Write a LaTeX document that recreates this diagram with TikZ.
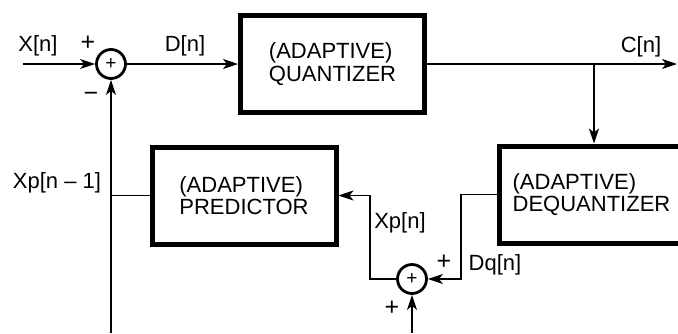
\documentclass[tikz,border=0pt]{standalone}
\usepackage{fontspec}
\setmainfont{Liberation Sans}
\usetikzlibrary{arrows.meta}
\begin{document}
\begin{tikzpicture}[x=1pt,y=-1pt,
  block/.style={draw,line width=5pt,minimum width=184pt,minimum height=97pt,
    inner sep=0pt,align=left,font=\fontsize{22}{22.5}\selectfont},
  sumnode/.style={draw,circle,line width=2.8pt,minimum size=29pt,inner sep=0pt,
    font=\fontsize{19}{19}\selectfont},
  lbl/.style={font=\fontsize{22}{22}\selectfont,inner sep=0pt},
  sgn/.style={font=\fontsize{25}{25}\selectfont,inner sep=0pt},
  wire/.style={line width=1.4pt},
  conn/.style={wire,-{Stealth[length=15pt,width=10pt,inset=4pt]}}]
\useasboundingbox (0,0) rectangle (678,333);
\clip (0,0) rectangle (678,333);

% summing junctions and blocks
\node[sumnode] (s1) at (111,64) {+};
\node[block] (q)  at (332.5,64)    {(ADAPTIVE)\\QUANTIZER};
\node[block] (dq) at (591.5,194.5) {(ADAPTIVE)\\DEQUANTIZER};
\node[block] (p)  at (244,195.5)   {(ADAPTIVE)\\PREDICTOR};
\node[sumnode] (s2) at (412,279) {+};

% free ends and corners of the wires
\coordinate (in)  at (23,64);
\coordinate (out) at (677,64);
\coordinate (br)  at (594,64);
\coordinate (fb)  at (111,333);
\coordinate (b2)  at (412,333);
\coordinate (k1)  at (461,279);
\coordinate (k2)  at (370,279);

% forward path
\draw[conn] (in) -- (s1);
\draw[conn] (s1) -- (q);
\draw[conn] (q) -- (out);
\draw[conn] (br) -- (dq.north -| br);

% reconstruction and prediction loop
\draw[conn] (dq.west) -| (k1) -- (s2);
\draw[conn] (s2) -- (k2) |- (p.east);
\draw[conn] (b2) -- (s2);
\draw[conn] (fb) -- (s1);
\draw[wire] (p.west) -- (p.west -| fb);

% signal names
\node[lbl] (lx)  at (38,46)  {X[n]};
\node[lbl] (ld)  at (185,46) {D[n]};
\node[lbl] (lc)  at (641,47) {C[n]};
\node[lbl] (lxp1) at (57,183) {Xp[n – 1]};
\node[lbl] (lxp) at (400,223) {Xp[n]};
\node[lbl] (ldq) at (495,265) {Dq[n]};

% signs at the junction inputs
\node[sgn] (p1) at (88,43)  {+};
\node[sgn] (m1) at (91,97)  {−};
\node[sgn] (p2) at (444,262) {+};
\node[sgn] (p3) at (392,308) {+};
\end{tikzpicture}
\end{document}
